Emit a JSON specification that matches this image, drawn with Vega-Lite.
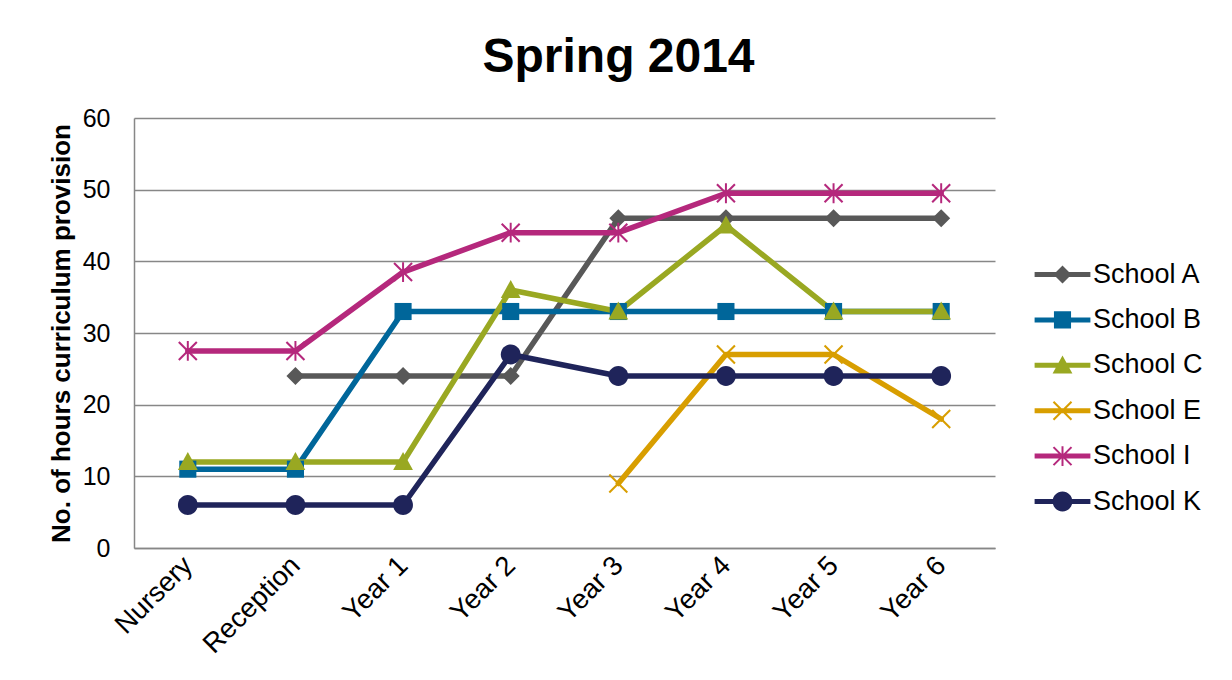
{
  "$schema": "https://vega.github.io/schema/vega-lite/v6.json",
  "width": 861,
  "height": 430,
  "autosize": {"type": "none"},
  "padding": {"left": 134, "top": 118, "right": 237, "bottom": 132},
  "background": "white",
  "config": {
    "font": "Liberation Sans",
    "view": {"stroke": null},
    "axis": {"labelColor": "black", "titleColor": "black", "domainColor": "#878787", "gridColor": "#878787", "domainWidth": 1.5, "gridWidth": 1.5, "ticks": false}
  },
  "title": {"text": "Spring 2014", "fontSize": 48, "fontWeight": "bold", "color": "black", "anchor": "middle", "frame": "group", "dx": 54, "dy": 54, "baseline": "bottom", "offset": 30},
  "data": {"values": [
    {"school": "School A", "grade": "Reception", "hours": 24},
    {"school": "School A", "grade": "Year 1", "hours": 24},
    {"school": "School A", "grade": "Year 2", "hours": 24},
    {"school": "School A", "grade": "Year 3", "hours": 46},
    {"school": "School A", "grade": "Year 4", "hours": 46},
    {"school": "School A", "grade": "Year 5", "hours": 46},
    {"school": "School A", "grade": "Year 6", "hours": 46},
    {"school": "School B", "grade": "Nursery", "hours": 11},
    {"school": "School B", "grade": "Reception", "hours": 11},
    {"school": "School B", "grade": "Year 1", "hours": 33},
    {"school": "School B", "grade": "Year 2", "hours": 33},
    {"school": "School B", "grade": "Year 3", "hours": 33},
    {"school": "School B", "grade": "Year 4", "hours": 33},
    {"school": "School B", "grade": "Year 5", "hours": 33},
    {"school": "School B", "grade": "Year 6", "hours": 33},
    {"school": "School C", "grade": "Nursery", "hours": 12},
    {"school": "School C", "grade": "Reception", "hours": 12},
    {"school": "School C", "grade": "Year 1", "hours": 12},
    {"school": "School C", "grade": "Year 2", "hours": 36},
    {"school": "School C", "grade": "Year 3", "hours": 33},
    {"school": "School C", "grade": "Year 4", "hours": 45},
    {"school": "School C", "grade": "Year 5", "hours": 33},
    {"school": "School C", "grade": "Year 6", "hours": 33},
    {"school": "School E", "grade": "Year 3", "hours": 9},
    {"school": "School E", "grade": "Year 4", "hours": 27},
    {"school": "School E", "grade": "Year 5", "hours": 27},
    {"school": "School E", "grade": "Year 6", "hours": 18},
    {"school": "School I", "grade": "Nursery", "hours": 27.5},
    {"school": "School I", "grade": "Reception", "hours": 27.5},
    {"school": "School I", "grade": "Year 1", "hours": 38.5},
    {"school": "School I", "grade": "Year 2", "hours": 44},
    {"school": "School I", "grade": "Year 3", "hours": 44},
    {"school": "School I", "grade": "Year 4", "hours": 49.5},
    {"school": "School I", "grade": "Year 5", "hours": 49.5},
    {"school": "School I", "grade": "Year 6", "hours": 49.5},
    {"school": "School K", "grade": "Nursery", "hours": 6},
    {"school": "School K", "grade": "Reception", "hours": 6},
    {"school": "School K", "grade": "Year 1", "hours": 6},
    {"school": "School K", "grade": "Year 2", "hours": 27},
    {"school": "School K", "grade": "Year 3", "hours": 24},
    {"school": "School K", "grade": "Year 4", "hours": 24},
    {"school": "School K", "grade": "Year 5", "hours": 24},
    {"school": "School K", "grade": "Year 6", "hours": 24}
  ]},
  "encoding": {
    "x": {
      "field": "grade", "type": "ordinal",
      "sort": ["Nursery", "Reception", "Year 1", "Year 2", "Year 3", "Year 4", "Year 5", "Year 6"],
      "scale": {"type": "point", "padding": 0.5},
      "axis": {"title": null, "labelAngle": -45, "labelAlign": "right", "labelBaseline": "middle", "labelFontSize": 27.5, "labelPadding": 13, "grid": false}
    },
    "y": {
      "field": "hours", "type": "quantitative",
      "scale": {"domain": [0, 60], "nice": false},
      "axis": {"title": "No. of hours curriculum provision", "titleFontSize": 26, "titleFontWeight": "bold", "titlePadding": 8, "labelFontSize": 25, "labelPadding": 24, "values": [0, 10, 20, 30, 40, 50, 60], "grid": true}
    }
  },
  "layer": [
    {
      "mark": {"type": "line", "strokeWidth": 5.5, "strokeJoin": "round", "strokeCap": "round"},
      "encoding": {
        "color": {"field": "school", "type": "nominal",
          "scale": {"domain": ["School A", "School B", "School C", "School E", "School I", "School K"], "range": ["#585858", "#00669A", "#99A822", "#D89E00", "#B5287C", "#1F245A"]},
          "legend": null}
      }
    },
    {
      "mark": {"type": "point", "filled": true, "opacity": 1, "size": 324, "strokeWidth": 0},
      "encoding": {
        "color": {"field": "school", "type": "nominal",
          "scale": {"domain": ["School A", "School B", "School C", "School E", "School I", "School K"], "range": ["#585858", "#00669A", "#99A822", "#D89E00", "#B5287C", "#1F245A"]},
          "legend": null},
        "shape": {
          "field": "school", "type": "nominal",
          "scale": {"domain": ["School A", "School B", "School C", "School E", "School I", "School K"],
            "range": [
              "M0,-1L1,0L0,1L-1,0Z",
              "M-0.95,-0.95L0.95,-0.95L0.95,0.95L-0.95,0.95Z",
              "M0,-1.1L1.1,0.9L-1.1,0.9Z",
              "M-0.92,-1.08L1.08,0.92L0.92,1.08L-1.08,-0.92ZM-1.08,0.92L0.92,-1.08L1.08,-0.92L-0.92,1.08Z",
              "M-0.92,-1.08L1.08,0.92L0.92,1.08L-1.08,-0.92ZM-1.08,0.92L0.92,-1.08L1.08,-0.92L-0.92,1.08ZM-0.11,-1.1L0.11,-1.1L0.11,1.1L-0.11,1.1Z",
              "M-1.1,0A1.1,1.1 0 1,1 1.1,0A1.1,1.1 0 1,1 -1.1,0Z"
            ]},
          "legend": null
        }
      }
    },
    {
      "mark": {"type": "point", "filled": true, "opacity": 0, "size": 324, "strokeWidth": 0},
      "encoding": {
        "color": {"field": "school", "type": "nominal",
          "scale": {"domain": ["School A", "School B", "School C", "School E", "School I", "School K"], "range": ["#585858", "#00669A", "#99A822", "#D89E00", "#B5287C", "#1F245A"]},
          "legend": {
            "title": null, "orient": "none", "legendX": 915, "legendY": 143,
            "labelFontSize": 27, "labelColor": "black", "labelOffset": 17, "rowPadding": 17.4,
            "symbolSize": 324, "symbolStrokeWidth": 0, "symbolOpacity": 1
          }},
        "shape": {
          "field": "school", "type": "nominal",
          "scale": {"domain": ["School A", "School B", "School C", "School E", "School I", "School K"],
            "range": [
              "M-3.1,-0.28L3.1,-0.28L3.1,0.28L-3.1,0.28ZM0,-1L1,0L0,1L-1,0Z",
              "M-3.1,-0.28L3.1,-0.28L3.1,0.28L-3.1,0.28ZM-0.95,-0.95L0.95,-0.95L0.95,0.95L-0.95,0.95Z",
              "M-3.1,-0.28L3.1,-0.28L3.1,0.28L-3.1,0.28ZM0,-1.1L1.1,0.9L-1.1,0.9Z",
              "M-3.1,-0.28L3.1,-0.28L3.1,0.28L-3.1,0.28ZM-0.92,-1.08L1.08,0.92L0.92,1.08L-1.08,-0.92ZM-1.08,0.92L0.92,-1.08L1.08,-0.92L-0.92,1.08Z",
              "M-3.1,-0.28L3.1,-0.28L3.1,0.28L-3.1,0.28ZM-0.92,-1.08L1.08,0.92L0.92,1.08L-1.08,-0.92ZM-1.08,0.92L0.92,-1.08L1.08,-0.92L-0.92,1.08ZM-0.11,-1.1L0.11,-1.1L0.11,1.1L-0.11,1.1Z",
              "M-3.1,-0.28L3.1,-0.28L3.1,0.28L-3.1,0.28ZM-1.1,0A1.1,1.1 0 1,1 1.1,0A1.1,1.1 0 1,1 -1.1,0Z"
            ]},
          "legend": null
        }
      }
    }
  ],
  "resolve": {"scale": {"color": "independent", "shape": "independent"}, "legend": {"color": "independent", "shape": "independent"}}
}
